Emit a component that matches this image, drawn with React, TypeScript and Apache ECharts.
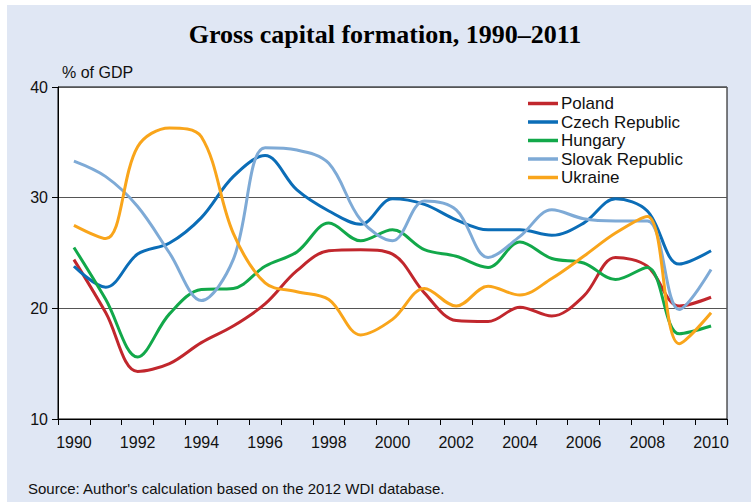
import React, { useEffect, useRef } from "react";
import * as echarts from "echarts";

const years = ["1990","1991","1992","1993","1994","1995","1996","1997","1998","1999","2000","2001","2002","2003","2004","2005","2006","2007","2008","2009","2010"];
const poland = [24.4, 19.6, 14.3, 15.0, 16.9, 18.4, 20.4, 23.4, 25.2, 25.3, 24.9, 21.4, 18.9, 18.8, 20.1, 19.3, 21.1, 24.6, 23.8, 20.2, 21.0];
const czech = [23.8, 21.9, 24.9, 25.9, 28.2, 31.9, 33.8, 30.7, 28.8, 27.6, 29.9, 29.4, 28.0, 27.1, 27.1, 26.6, 27.7, 29.9, 28.8, 24.0, 25.2];
const hungary = [25.5, 20.8, 15.6, 19.5, 21.7, 21.8, 23.8, 25.1, 27.7, 26.1, 27.1, 25.3, 24.7, 23.7, 26.0, 24.5, 24.1, 22.6, 23.7, 17.7, 18.4];
const slovak = [33.3, 31.9, 29.2, 25.0, 20.7, 24.4, 34.5, 34.3, 33.1, 28.0, 26.1, 29.7, 28.9, 24.6, 26.5, 28.9, 28.1, 27.9, 27.9, 19.9, 23.5];
const ukraine = [27.5, 26.3, 34.6, 36.3, 35.5, 26.8, 22.3, 21.5, 20.8, 17.6, 19.0, 21.8, 20.2, 22.0, 21.2, 22.7, 24.7, 26.8, 28.3, 16.8, 19.6];

const seriesNames = ["Poland", "Czech Republic", "Hungary", "Slovak Republic", "Ukraine"];
const seriesData = [poland, czech, hungary, slovak, ukraine];
const seriesColors = ["#C1272D", "#0B6DB7", "#12A84A", "#7EAAD6", "#F9A51B"];

const SANS = "'Liberation Sans', Arial, sans-serif";

export default function App() {
  const ref = useRef<HTMLDivElement>(null);
  useEffect(() => {
    document.body.style.margin = "0";
    if (!ref.current) return;
    const chart = echarts.init(ref.current, null, { renderer: "svg" });
    chart.setOption({
      animation: false,
      backgroundColor: "#ffffff",
      graphic: [
        { type: "rect", z: -100, shape: { x: 7, y: 5, width: 744, height: 497 }, style: { fill: "#E0E7F4" } },
        { type: "text", x: 385, y: 34, style: { text: "Gross capital formation, 1990\u20132011", font: "bold 26px 'Liberation Serif', 'Times New Roman', serif", fill: "#000", textAlign: "center", textVerticalAlign: "middle" } },
        { type: "text", x: 62, y: 72, style: { text: "% of GDP", font: "16px " + SANS, fill: "#111", textAlign: "left", textVerticalAlign: "middle" } },
        { type: "text", x: 28, y: 488, style: { text: "Source: Author's calculation based on the 2012 WDI database.", font: "15px " + SANS, fill: "#111", textAlign: "left", textVerticalAlign: "middle" } },
      ],
      grid: {
        left: 58, top: 87, right: 24, bottom: 83,
        show: true, backgroundColor: "#ffffff", borderColor: "#000", borderWidth: 1,
      },
      legend: {
        orient: "vertical", left: 523, top: 90,
        itemWidth: 30, itemHeight: 3.5, itemGap: 1.5,
        icon: "rect",
        data: seriesNames,
        textStyle: { fontFamily: SANS, fontSize: 17, color: "#111", lineHeight: 17, padding: [0, 0, 0, -2] },
      },
      xAxis: {
        type: "category", data: years, boundaryGap: true,
        axisLine: { lineStyle: { color: "#000", width: 1 } },
        axisTick: { show: true, interval: 0, length: 6, lineStyle: { color: "#000" } },
        axisLabel: { interval: 1, fontFamily: SANS, fontSize: 16, color: "#111", margin: 15 },
      },
      yAxis: {
        type: "value", min: 10, max: 40, interval: 10,
        axisLine: { show: true, lineStyle: { color: "#000" } },
        axisTick: { show: true, length: 6, lineStyle: { color: "#000" } },
        axisLabel: { fontFamily: SANS, fontSize: 16, color: "#111", margin: 10 },
        splitLine: { show: true, lineStyle: { color: "#555", width: 1 } },
      },
      series: seriesNames.map((n, i) => ({
        name: n, type: "line", data: seriesData[i], smooth: 0.35,
        symbol: "none", showSymbol: false,
        lineStyle: { color: seriesColors[i], width: 3 },
        itemStyle: { color: seriesColors[i] },
      })),
    });
    return () => chart.dispose();
  }, []);
  return <div ref={ref} style={{ width: 751, height: 502 }} />;
}
